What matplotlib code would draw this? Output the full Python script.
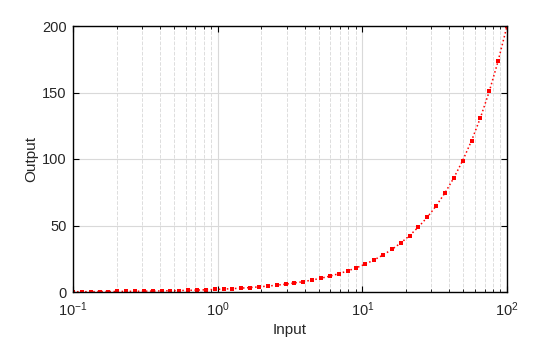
import matplotlib
matplotlib.use("Agg")
import matplotlib.pyplot as plt
from matplotlib.ticker import LogLocator, NullFormatter

plt.rcParams['font.family'] = ['Liberation Sans', 'DejaVu Sans']

x_vals = [0.1, 0.1151, 0.1326, 0.1526, 0.1758, 0.2024, 0.2330, 0.2683, 0.3089, 0.3556,
          0.4095, 0.4715, 0.5429, 0.6251, 0.7197, 0.8286, 0.9541, 1.0985, 1.2649, 1.4564,
          1.6768, 1.9307, 2.2230, 2.5595, 2.9471, 3.3932, 3.9069, 4.4984, 5.1795, 5.9636,
          6.8665, 7.9060, 9.1030, 10.481, 12.068, 13.895, 15.999, 18.421, 21.210, 24.421,
          28.118, 32.375, 37.276, 42.919, 49.417, 56.899, 65.513, 75.431, 86.851, 100.0]
y_vals = [0.20, 0.23, 0.27, 0.31, 0.35, 0.40, 0.47, 0.54, 0.62, 0.71,
          0.82, 0.94, 1.09, 1.25, 1.44, 1.66, 1.91, 2.20, 2.53, 2.91,
          3.35, 3.86, 4.45, 5.12, 5.89, 6.79, 7.81, 9.00, 10.36, 11.93,
          13.73, 15.81, 18.21, 20.96, 24.14, 27.79, 32.00, 36.84, 42.42, 48.84,
          56.24, 64.75, 74.55, 85.84, 98.83, 113.80, 131.03, 150.86, 173.70, 200.0]

fig = plt.figure(figsize=(5.6, 3.37), dpi=100)
ax = fig.add_axes([73/560, 1-292/337, 434/560, 266/337])

ax.plot(x_vals, y_vals, color='red', linestyle=':', linewidth=1.1,
        marker='s', markersize=2.6, markeredgewidth=0)

ax.set_xscale('log')
ax.set_xlim(0.1, 100)
ax.set_ylim(0, 200)
ax.set_yticks([0, 50, 100, 150, 200])
ax.xaxis.set_minor_locator(LogLocator(base=10, subs=range(2, 10)))
ax.xaxis.set_minor_formatter(NullFormatter())

ax.grid(True, which='major', color='#d9d9d9', linestyle='-', linewidth=0.8)
ax.grid(True, which='minor', axis='x', color='#dddddd', linestyle='--', linewidth=0.7)
ax.set_axisbelow(True)

ax.tick_params(which='both', direction='in', top=True, right=True, labelsize=10.5, colors='#262626')
ax.tick_params(which='major', length=4, width=0.8, color='black')
ax.tick_params(which='minor', length=2.5, width=0.6, color='black')
ax.tick_params(axis='x', which='major', pad=6)
ax.tick_params(axis='y', which='major', pad=4.5)
for s in ax.spines.values():
    s.set_color('black')
    s.set_linewidth(1.0)

ax.set_xlabel('Input', fontsize=11, color='#262626', labelpad=3)
ax.set_ylabel('Output', fontsize=11, color='#262626', labelpad=2.5)

fig.savefig('out.png', dpi=100)
